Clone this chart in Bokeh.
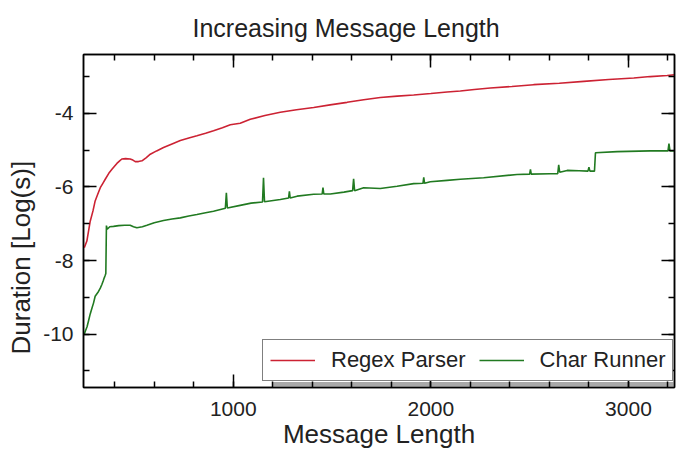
from bokeh.plotting import figure
from bokeh.models import (Range1d, LinearAxis, SingleIntervalTicker, Legend, LegendItem,
                          BoxAnnotation, Title)
from bokeh.embed import file_html
from bokeh.resources import INLINE

# ---- data ----
regex_len = [246, 259, 276, 290, 301, 314, 327, 340, 352, 370, 386, 400, 411, 425, 436,
             455, 478, 492, 504, 520, 538, 560, 580, 612, 647, 690, 732, 775, 816, 860,
             900, 945, 985, 1035, 1086, 1160, 1238, 1320, 1407, 1490, 1576, 1660, 1744,
             1830, 1913, 2000, 2082, 2149, 2220, 2301, 2410, 2520, 2650, 2774, 2900,
             3027, 3110, 3196, 3233]
regex_dur = [-7.65, -7.47, -6.93, -6.65, -6.38, -6.2, -6.02, -5.9, -5.79, -5.63, -5.52,
             -5.43, -5.36, -5.29, -5.24, -5.23, -5.24, -5.27, -5.31, -5.31, -5.29, -5.2,
             -5.11, -5.02, -4.93, -4.83, -4.74, -4.67, -4.61, -4.54, -4.47, -4.39, -4.31,
             -4.27, -4.16, -4.06, -3.97, -3.9, -3.84, -3.77, -3.7, -3.63, -3.57, -3.53,
             -3.5, -3.46, -3.42, -3.39, -3.35, -3.31, -3.27, -3.22, -3.18, -3.13, -3.08,
             -3.04, -3.0, -2.97, -2.95]

char_len = [246, 251, 260, 267, 276, 285, 293, 301, 310, 318, 327, 335, 342, 347, 352,
            355, 358, 362, 375, 394, 420, 450, 478, 495, 512, 540, 563, 600, 647, 690,
            732, 775, 816, 860, 900, 960, 965, 970, 1035, 1090, 1148, 1153, 1158, 1238,
            1280, 1284, 1288, 1323, 1407, 1450, 1454, 1458, 1491, 1560, 1604, 1609, 1614,
            1660, 1744, 1829, 1913, 1960, 1964, 1968, 1997, 2082, 2149, 2267, 2436, 2500,
            2504, 2508, 2605, 2642, 2647, 2652, 2690, 2750, 2795, 2800, 2805, 2828, 2833,
            2943, 3111, 3200, 3205, 3210, 3233]
char_dur = [-10.0, -9.92, -9.8, -9.65, -9.45, -9.29, -9.15, -8.97, -8.9, -8.84, -8.75,
            -8.65, -8.55, -8.47, -8.4, -8.35, -7.05, -7.15, -7.08, -7.07, -7.05, -7.04,
            -7.04, -7.08, -7.11, -7.08, -7.04, -6.97, -6.91, -6.87, -6.84, -6.79, -6.75,
            -6.7, -6.66, -6.58, -6.16, -6.57, -6.5, -6.44, -6.41, -5.75, -6.4, -6.34,
            -6.3, -6.12, -6.3, -6.25, -6.2, -6.19, -6.02, -6.19, -6.19, -6.14, -6.1,
            -5.78, -6.1, -6.02, -6.04, -5.98, -5.91, -5.9, -5.74, -5.9, -5.86, -5.82,
            -5.79, -5.75, -5.66, -5.65, -5.52, -5.65, -5.64, -5.64, -5.40, -5.6, -5.55,
            -5.56, -5.57, -5.46, -5.57, -5.57, -5.07, -5.04, -5.02, -5.02, -4.82, -5.02,
            -5.02]

y_tick_values = [-10, -8, -6, -4]
y_tick_labels = ["-10", "-8", "-6", "-4"]

x_start, x_end = 242, 3233
y_start, y_end = -11.45, -2.4

FONT = "Liberation Sans"
TXT = "#222222"

p = figure(width=684, height=451, output_backend="svg", toolbar_location=None,
           x_range=Range1d(x_start, x_end), y_range=Range1d(y_start, y_end),
           min_border_left=83, min_border_right=10, min_border_top=54,
           min_border_bottom=40,
           x_axis_type=None, y_axis_type=None)

p.title.text = "Increasing Message Length"
p.title.text_font = FONT
p.title.text_font_size = "25px"
p.title.text_font_style = "normal"
p.title.text_color = TXT
p.title.align = "left"
p.title.offset = 109
p.title.standoff = 22
p.title.vertical_align = "top"

p.xgrid.visible = False
p.ygrid.visible = False
p.outline_line_color = "black"
p.outline_line_width = 1.5
p.background_fill_color = "white"
p.border_fill_color = "white"

xt = SingleIntervalTicker(interval=1000, num_minor_ticks=5)
yt = SingleIntervalTicker(interval=2, num_minor_ticks=2)


def style_axis(ax, show_labels):
    ax.axis_line_color = "black"
    ax.axis_line_width = 1.5
    ax.major_tick_in = 13
    ax.major_tick_out = 0
    ax.minor_tick_in = 6
    ax.minor_tick_out = 0
    ax.major_tick_line_color = "black"
    ax.major_tick_line_width = 1.5
    ax.minor_tick_line_color = "black"
    ax.minor_tick_line_width = 1.5
    ax.major_label_text_font = FONT
    ax.major_label_text_font_size = "21px"
    ax.major_label_text_color = TXT
    ax.axis_label_text_font = FONT
    ax.axis_label_text_font_size = "26px"
    ax.axis_label_text_font_style = "normal"
    ax.axis_label_text_color = TXT
    if not show_labels:
        ax.major_label_text_color = None
        ax.major_label_text_font_size = "0px"
        ax.major_label_standoff = 0


xb = LinearAxis(ticker=xt, axis_label="Message Length")
style_axis(xb, True)
xb.major_label_standoff = 14
xb.axis_label_standoff = 0
p.add_layout(xb, "below")

yl = LinearAxis(ticker=yt)
style_axis(yl, True)
yl.major_label_standoff = 10
yl.major_label_overrides = dict(zip(y_tick_values, y_tick_labels))
p.add_layout(yl, "left")

ylabel = Title(text="Duration [Log(s)]", align="left", offset=33, standoff=6,
               vertical_align="top",
               text_font=FONT, text_font_size="26px", text_font_style="normal",
               text_color=TXT)
p.add_layout(ylabel, "left")

xa = LinearAxis(ticker=xt)
style_axis(xa, False)
p.add_layout(xa, "above")

yr = LinearAxis(ticker=yt)
style_axis(yr, False)
p.add_layout(yr, "right")

r1 = p.line(regex_len, regex_dur, line_color="#cc2233", line_width=1.6)
r2 = p.line(char_len, char_dur, line_color="#217a21", line_width=1.6)

shadow = BoxAnnotation(left=1197, top=-11.30, fill_color="#a8a8a8", fill_alpha=1.0,
                       line_color=None, level="underlay")
p.add_layout(shadow)

legend = Legend(items=[LegendItem(label="Regex Parser", renderers=[r1]),
                       LegendItem(label="Char Runner", renderers=[r2])],
                orientation="horizontal", location=(179, 6))
legend.level = "underlay"
legend.border_line_color = "black"
legend.border_line_width = 1.5
legend.background_fill_color = "white"
legend.background_fill_alpha = 1.0
legend.padding = 7
legend.spacing = 13
legend.margin = 0
legend.glyph_width = 45
legend.label_standoff = 16
legend.label_text_font = FONT
legend.label_text_font_size = "22px"
legend.label_text_color = TXT
p.add_layout(legend)

open("out.html", "w").write(file_html(p, INLINE))
